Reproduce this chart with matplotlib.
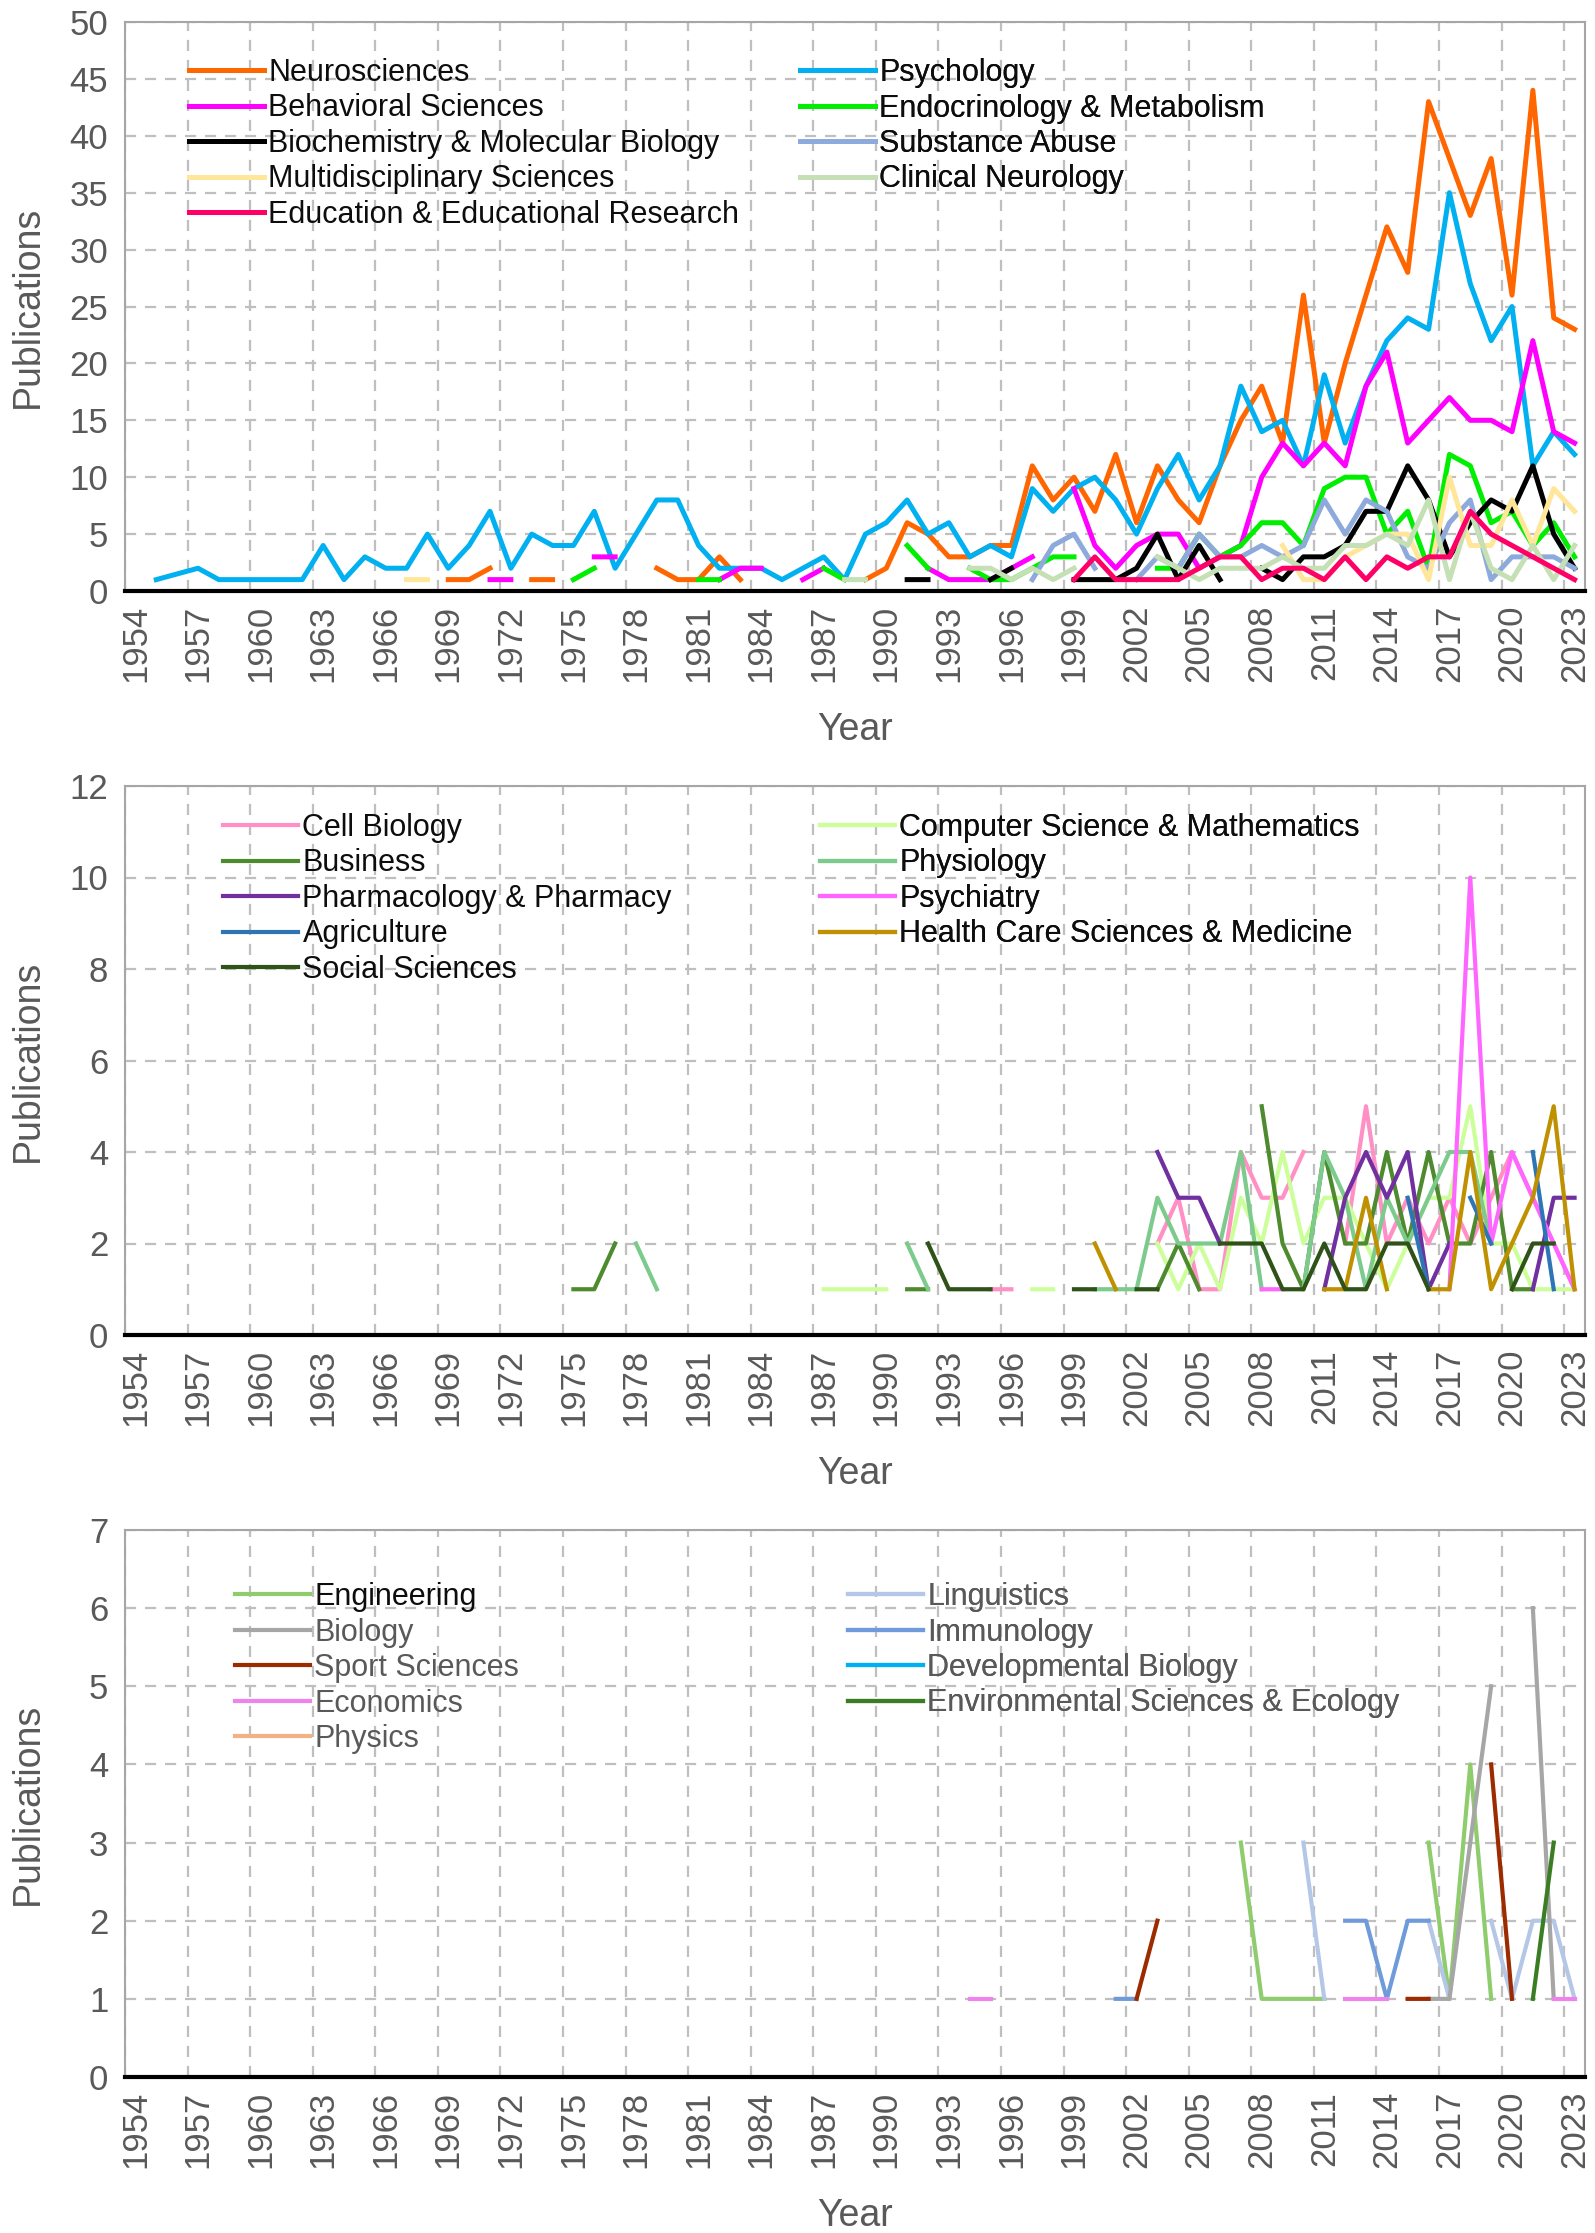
import numpy as np
import matplotlib
matplotlib.use('Agg')
import matplotlib.pyplot as plt

plt.rcParams['font.family'] = ['Liberation Sans', 'DejaVu Sans']

YEARS = list(range(1954, 2024))
TICK_YEARS = list(range(1954, 2024, 3))

# ---- panel 1 (publications per year) ----
NEUROSCIENCES = {1969: 1, 1970: 1, 1971: 2, 1973: 1, 1974: 1, 1979: 2, 1980: 1, 1981: 1, 1982: 3, 1983: 1,
                 1989: 1, 1990: 2, 1991: 6, 1992: 5, 1993: 3, 1994: 3, 1995: 4, 1996: 4, 1997: 11, 1998: 8,
                 1999: 10, 2000: 7, 2001: 12, 2002: 6, 2003: 11, 2004: 8, 2005: 6, 2006: 11, 2007: 15, 2008: 18,
                 2009: 13, 2010: 26, 2011: 13, 2012: 20, 2013: 26, 2014: 32, 2015: 28, 2016: 43, 2017: 38,
                 2018: 33, 2019: 38, 2020: 26, 2021: 44, 2022: 24, 2023: 23}
PSYCHOLOGY = {1955: 1, 1956: 1.5, 1957: 2, 1958: 1, 1959: 1, 1960: 1, 1961: 1, 1962: 1, 1963: 4, 1964: 1,
              1965: 3, 1966: 2, 1967: 2, 1968: 5, 1969: 2, 1970: 4, 1971: 7, 1972: 2, 1973: 5, 1974: 4,
              1975: 4, 1976: 7, 1977: 2, 1978: 5, 1979: 8, 1980: 8, 1981: 4, 1982: 2, 1983: 2, 1984: 2,
              1985: 1, 1986: 2, 1987: 3, 1988: 1, 1989: 5, 1990: 6, 1991: 8, 1992: 5, 1993: 6, 1994: 3,
              1995: 4, 1996: 3, 1997: 9, 1998: 7, 1999: 9, 2000: 10, 2001: 8, 2002: 5, 2003: 9, 2004: 12,
              2005: 8, 2006: 11, 2007: 18, 2008: 14, 2009: 15, 2010: 11, 2011: 19, 2012: 13, 2013: 18,
              2014: 22, 2015: 24, 2016: 23, 2017: 35, 2018: 27, 2019: 22, 2020: 25, 2021: 11, 2022: 14,
              2023: 12}
BEHAVIORAL = {1971: 1, 1972: 1, 1976: 3, 1977: 3, 1982: 1, 1983: 2, 1984: 2, 1986: 1, 1987: 2, 1992: 2,
              1993: 1, 1994: 1, 1995: 1, 1996: 2, 1997: 3, 1999: 9, 2000: 4, 2001: 2, 2002: 4, 2003: 5,
              2004: 5, 2005: 2, 2006: 3, 2007: 4, 2008: 10, 2009: 13, 2010: 11, 2011: 13, 2012: 11,
              2013: 18, 2014: 21, 2015: 13, 2016: 15, 2017: 17, 2018: 15, 2019: 15, 2020: 14, 2021: 22,
              2022: 14, 2023: 13}
ENDOCRINOLOGY = {1975: 1, 1976: 2, 1981: 1, 1982: 1, 1987: 2, 1988: 1, 1991: 4, 1992: 2, 1994: 2, 1995: 1,
                 1996: 1, 1997: 2, 1998: 3, 1999: 3, 2003: 2, 2004: 2, 2005: 5, 2006: 3, 2007: 4, 2008: 6,
                 2009: 6, 2010: 4, 2011: 9, 2012: 10, 2013: 10, 2014: 5, 2015: 7, 2016: 2, 2017: 12,
                 2018: 11, 2019: 6, 2020: 7, 2021: 4, 2022: 6, 2023: 3}
BIOCHEMISTRY = {1991: 1, 1992: 1, 1995: 1, 1996: 2, 1999: 1, 2000: 1, 2001: 1, 2002: 2, 2003: 5, 2004: 1,
                2005: 4, 2006: 1, 2008: 2, 2009: 1, 2010: 3, 2011: 3, 2012: 4, 2013: 7, 2014: 7, 2015: 11,
                2016: 8, 2017: 3, 2018: 6, 2019: 8, 2020: 7, 2021: 11, 2022: 5, 2023: 2}
SUBSTANCE_ABUSE = {1997: 1, 1998: 4, 1999: 5, 2000: 2, 2002: 1, 2003: 3, 2004: 2, 2005: 5, 2006: 3,
                   2007: 3, 2008: 4, 2009: 3, 2010: 4, 2011: 8, 2012: 5, 2013: 8, 2014: 7, 2015: 3,
                   2016: 2, 2017: 6, 2018: 8, 2019: 1, 2020: 3, 2021: 3, 2022: 3, 2023: 2}
MULTIDISCIPLINARY = {1967: 1, 1968: 1, 2009: 4, 2010: 1, 2011: 1, 2012: 3, 2013: 4, 2014: 5, 2015: 5,
                     2016: 1, 2017: 10, 2018: 4, 2019: 4, 2020: 8, 2021: 4, 2022: 9, 2023: 7}
CLINICAL_NEUROLOGY = {1988: 1, 1989: 1, 1994: 2, 1995: 2, 1996: 1, 1997: 2, 1998: 1, 1999: 2, 2003: 3,
                      2004: 2, 2005: 1, 2006: 2, 2007: 2, 2008: 2, 2009: 3, 2010: 2, 2011: 2, 2012: 4,
                      2013: 4, 2014: 5, 2015: 4, 2016: 8, 2017: 1, 2018: 7, 2019: 2, 2020: 1, 2021: 4,
                      2022: 1, 2023: 4}
EDUCATION = {1999: 1, 2000: 3, 2001: 1, 2002: 1, 2003: 1, 2004: 1, 2005: 2, 2006: 3, 2007: 3, 2008: 1,
             2009: 2, 2010: 2, 2011: 1, 2012: 3, 2013: 1, 2014: 3, 2015: 2, 2016: 3, 2017: 3, 2018: 7,
             2019: 5, 2020: 4, 2021: 3, 2022: 2, 2023: 1}

# ---- panel 2 ----
CELL_BIOLOGY = {1995: 1, 1996: 1, 2003: 2, 2004: 3, 2005: 1, 2006: 1, 2007: 4, 2008: 3, 2009: 3, 2010: 4,
                2012: 2, 2013: 5, 2014: 2, 2015: 3, 2016: 2, 2017: 3, 2018: 2, 2019: 3, 2020: 4, 2021: 3,
                2022: 2, 2023: 1}
COMPUTER_SCIENCE = {1987: 1, 1988: 1, 1989: 1, 1990: 1, 1997: 1, 1998: 1, 2003: 2, 2004: 1, 2005: 2,
                    2006: 1, 2007: 3, 2008: 2, 2009: 4, 2010: 2, 2011: 3, 2012: 3, 2013: 2, 2014: 1,
                    2015: 2, 2016: 3, 2017: 3, 2018: 5, 2019: 2, 2020: 2, 2021: 1, 2022: 1, 2023: 1}
BUSINESS = {1975: 1, 1976: 1, 1977: 2, 1991: 1, 1992: 1, 2003: 1, 2004: 2, 2005: 1, 2008: 5, 2009: 2,
            2010: 1, 2011: 4, 2012: 2, 2013: 2, 2014: 4, 2015: 2, 2016: 4, 2017: 2, 2018: 2, 2019: 4,
            2020: 1, 2021: 1}
PHYSIOLOGY = {1978: 2, 1979: 1, 1991: 2, 1992: 1, 2000: 1, 2001: 1, 2002: 1, 2003: 3, 2004: 2, 2005: 2,
              2006: 2, 2007: 4, 2008: 1, 2010: 1, 2011: 4, 2012: 3, 2013: 1, 2014: 3, 2015: 2, 2016: 3,
              2017: 4, 2018: 4, 2019: 2}
PHARMACOLOGY = {2003: 4, 2004: 3, 2005: 3, 2006: 2, 2011: 1, 2012: 3, 2013: 4, 2014: 3, 2015: 4, 2016: 1,
                2017: 2, 2021: 1, 2022: 3, 2023: 3}
PSYCHIATRY = {2008: 1, 2009: 1, 2017: 1, 2018: 10, 2019: 2, 2020: 4, 2021: 3, 2022: 2, 2023: 1}
AGRICULTURE = {2015: 3, 2016: 1, 2018: 3, 2019: 2, 2021: 4, 2022: 1}
HEALTH_CARE = {2000: 2, 2001: 1, 2011: 1, 2012: 1, 2013: 3, 2014: 1, 2016: 1, 2017: 1, 2018: 4, 2019: 1,
               2020: 2, 2021: 3, 2022: 5, 2023: 1}
SOCIAL_SCIENCES = {1992: 2, 1993: 1, 1994: 1, 1995: 1, 1999: 1, 2000: 1, 2002: 1, 2003: 1, 2006: 2,
                   2007: 2, 2008: 2, 2009: 1, 2010: 1, 2011: 2, 2012: 1, 2013: 1, 2014: 2, 2015: 2,
                   2016: 1, 2020: 1, 2021: 2, 2022: 2}

# ---- panel 3 ----
ENGINEERING = {2007: 3, 2008: 1, 2009: 1, 2010: 1, 2011: 1, 2016: 3, 2017: 1, 2018: 4, 2019: 1}
LINGUISTICS = {2010: 3, 2011: 1, 2016: 2, 2017: 1, 2019: 2, 2020: 1, 2021: 2, 2022: 2, 2023: 1}
BIOLOGY = {2016: 1, 2017: 1, 2018: 3, 2019: 5, 2021: 6, 2022: 1}
IMMUNOLOGY = {2001: 1, 2002: 1, 2012: 2, 2013: 2, 2014: 1, 2015: 2, 2016: 2}
SPORT_SCIENCES = {2002: 1, 2003: 2, 2015: 1, 2016: 1, 2019: 4, 2020: 1}
DEVELOPMENTAL_BIOLOGY = {}
ECONOMICS = {1994: 1, 1995: 1, 2012: 1, 2013: 1, 2014: 1, 2022: 1, 2023: 1}
ENVIRONMENTAL = {2021: 1, 2022: 3}
PHYSICS = {}

W, H = 1595, 2233
GRID = '#BFBFBF'
TEXT = '#595959'
LEFT_PX, RIGHT_PX = 125, 1585


def as_series(values):
    return [values.get(y, np.nan) for y in YEARS]


def make_axes(fig, top_px, bottom_px):
    rect = [LEFT_PX / W, 1 - bottom_px / H, (RIGHT_PX - LEFT_PX) / W, (bottom_px - top_px) / H]
    return fig.add_axes(rect)


def style_axes(ax, ymax, ystep, top_px, bottom_px):
    ax.set_xlim(1953.5, 2023.5)
    ax.set_ylim(0, ymax)
    ax.set_yticks(np.arange(0, ymax + 0.1, ystep))
    ax.set_xticks(TICK_YEARS)
    ax.set_xticklabels([str(y) for y in TICK_YEARS], rotation=90)
    ax.set_xticks(np.arange(1953.5, 2023, 3), minor=True)
    ax.tick_params(axis='both', which='both', length=0)
    ax.tick_params(axis='x', labelsize=25, labelcolor=TEXT, pad=10)
    ax.tick_params(axis='y', labelsize=25, labelcolor=TEXT, pad=12)
    ax.grid(True, axis='y', which='major', color=GRID, lw=1.6, ls=(0, (5, 4)))
    ax.grid(True, axis='x', which='minor', color=GRID, lw=1.6, ls=(0, (5, 4)))
    ax.set_axisbelow(True)
    for side in ['top', 'right', 'left']:
        ax.spines[side].set_color('#A6A6A6')
        ax.spines[side].set_linewidth(1.5)
    ax.spines['bottom'].set_color('#000000')
    ax.spines['bottom'].set_linewidth(3)
    ax.set_xlabel('Year', fontsize=27, color=TEXT)
    ax.set_ylabel('Publications', fontsize=27, color=TEXT)
    height = bottom_px - top_px
    ax.xaxis.set_label_coords(0.5, -(121 / height))
    ax.yaxis.set_label_coords(-(79 / (RIGHT_PX - LEFT_PX)), 0.5)


def add_legend(fig, ax, handles, x_px, y_px, colors):
    leg = ax.legend(handles=handles, loc='upper left',
                    bbox_to_anchor=(x_px / W, 1 - y_px / H), bbox_transform=fig.transFigure,
                    frameon=False, fontsize=22, handlelength=2.45, handletextpad=0.15,
                    labelspacing=0.18, borderpad=0, borderaxespad=0)
    for txt, c in zip(leg.get_texts(), colors):
        txt.set_color(c)
    ax.add_artist(leg)


def draw_panel(fig, top_px, bottom_px, series, ymax, ystep, lw, legend_cols, legend_pos, legend_colors):
    ax = make_axes(fig, top_px, bottom_px)
    lines = {}
    for name, values, color in series:
        line, = ax.plot(YEARS, as_series(values), color=color, lw=lw, label=name)
        lines[name] = line
    style_axes(ax, ymax, ystep, top_px, bottom_px)
    for names, (x_px, y_px), cols in zip(legend_cols, legend_pos, legend_colors):
        add_legend(fig, ax, [lines[n] for n in names], x_px, y_px, cols)
    return ax


fig = plt.figure(figsize=(W / 100, H / 100), dpi=100)

# series listed in drawing order (first one is at the back)
top_series = [
    ('Neurosciences', NEUROSCIENCES, '#FF6600'),
    ('Psychology', PSYCHOLOGY, '#00B0F0'),
    ('Behavioral Sciences', BEHAVIORAL, '#FF00FF'),
    ('Endocrinology & Metabolism', ENDOCRINOLOGY, '#00EE00'),
    ('Biochemistry & Molecular Biology', BIOCHEMISTRY, '#000000'),
    ('Substance Abuse', SUBSTANCE_ABUSE, '#8EA9DB'),
    ('Multidisciplinary Sciences', MULTIDISCIPLINARY, '#FFE699'),
    ('Clinical Neurology', CLINICAL_NEUROLOGY, '#C5E0B4'),
    ('Education & Educational Research', EDUCATION, '#FF0066'),
]
draw_panel(fig, 22, 591, top_series, 50, 5, 3.6,
           [['Neurosciences', 'Behavioral Sciences', 'Biochemistry & Molecular Biology',
             'Multidisciplinary Sciences', 'Education & Educational Research'],
            ['Psychology', 'Endocrinology & Metabolism', 'Substance Abuse', 'Clinical Neurology']],
           [(189, 58), (800, 58)], [['#0D0D0D'] * 5, ['#0D0D0D'] * 4])

mid_series = [
    ('Cell Biology', CELL_BIOLOGY, '#FF8FC4'),
    ('Computer Science & Mathematics', COMPUTER_SCIENCE, '#CCFF99'),
    ('Business', BUSINESS, '#4E8A2E'),
    ('Physiology', PHYSIOLOGY, '#7CCB8C'),
    ('Pharmacology & Pharmacy', PHARMACOLOGY, '#7030A0'),
    ('Psychiatry', PSYCHIATRY, '#FF66FF'),
    ('Agriculture', AGRICULTURE, '#2E75B6'),
    ('Health Care Sciences & Medicine', HEALTH_CARE, '#BF9000'),
    ('Social Sciences', SOCIAL_SCIENCES, '#2F5219'),
]
draw_panel(fig, 786, 1335, mid_series, 12, 2, 3.0,
           [['Cell Biology', 'Business', 'Pharmacology & Pharmacy', 'Agriculture', 'Social Sciences'],
            ['Computer Science & Mathematics', 'Physiology', 'Psychiatry',
             'Health Care Sciences & Medicine']],
           [(223, 813), (820, 813)], [['#0D0D0D'] * 5, ['#0D0D0D'] * 4])

bot_series = [
    ('Engineering', ENGINEERING, '#8FCC6E'),
    ('Linguistics', LINGUISTICS, '#B4C7E7'),
    ('Biology', BIOLOGY, '#A6A6A6'),
    ('Immunology', IMMUNOLOGY, '#6F9BDB'),
    ('Sport Sciences', SPORT_SCIENCES, '#9C2B00'),
    ('Developmental Biology', DEVELOPMENTAL_BIOLOGY, '#00B0F0'),
    ('Economics', ECONOMICS, '#EE82EE'),
    ('Environmental Sciences & Ecology', ENVIRONMENTAL, '#3A7D22'),
    ('Physics', PHYSICS, '#F4B183'),
]
draw_panel(fig, 1530, 2077, bot_series, 7, 1, 3.0,
           [['Engineering', 'Biology', 'Sport Sciences', 'Economics', 'Physics'],
            ['Linguistics', 'Immunology', 'Developmental Biology', 'Environmental Sciences & Ecology']],
           [(235, 1582), (848, 1582)], [['#0D0D0D'] + [TEXT] * 4, [TEXT] * 4])

fig.savefig('out.png', dpi=100)
